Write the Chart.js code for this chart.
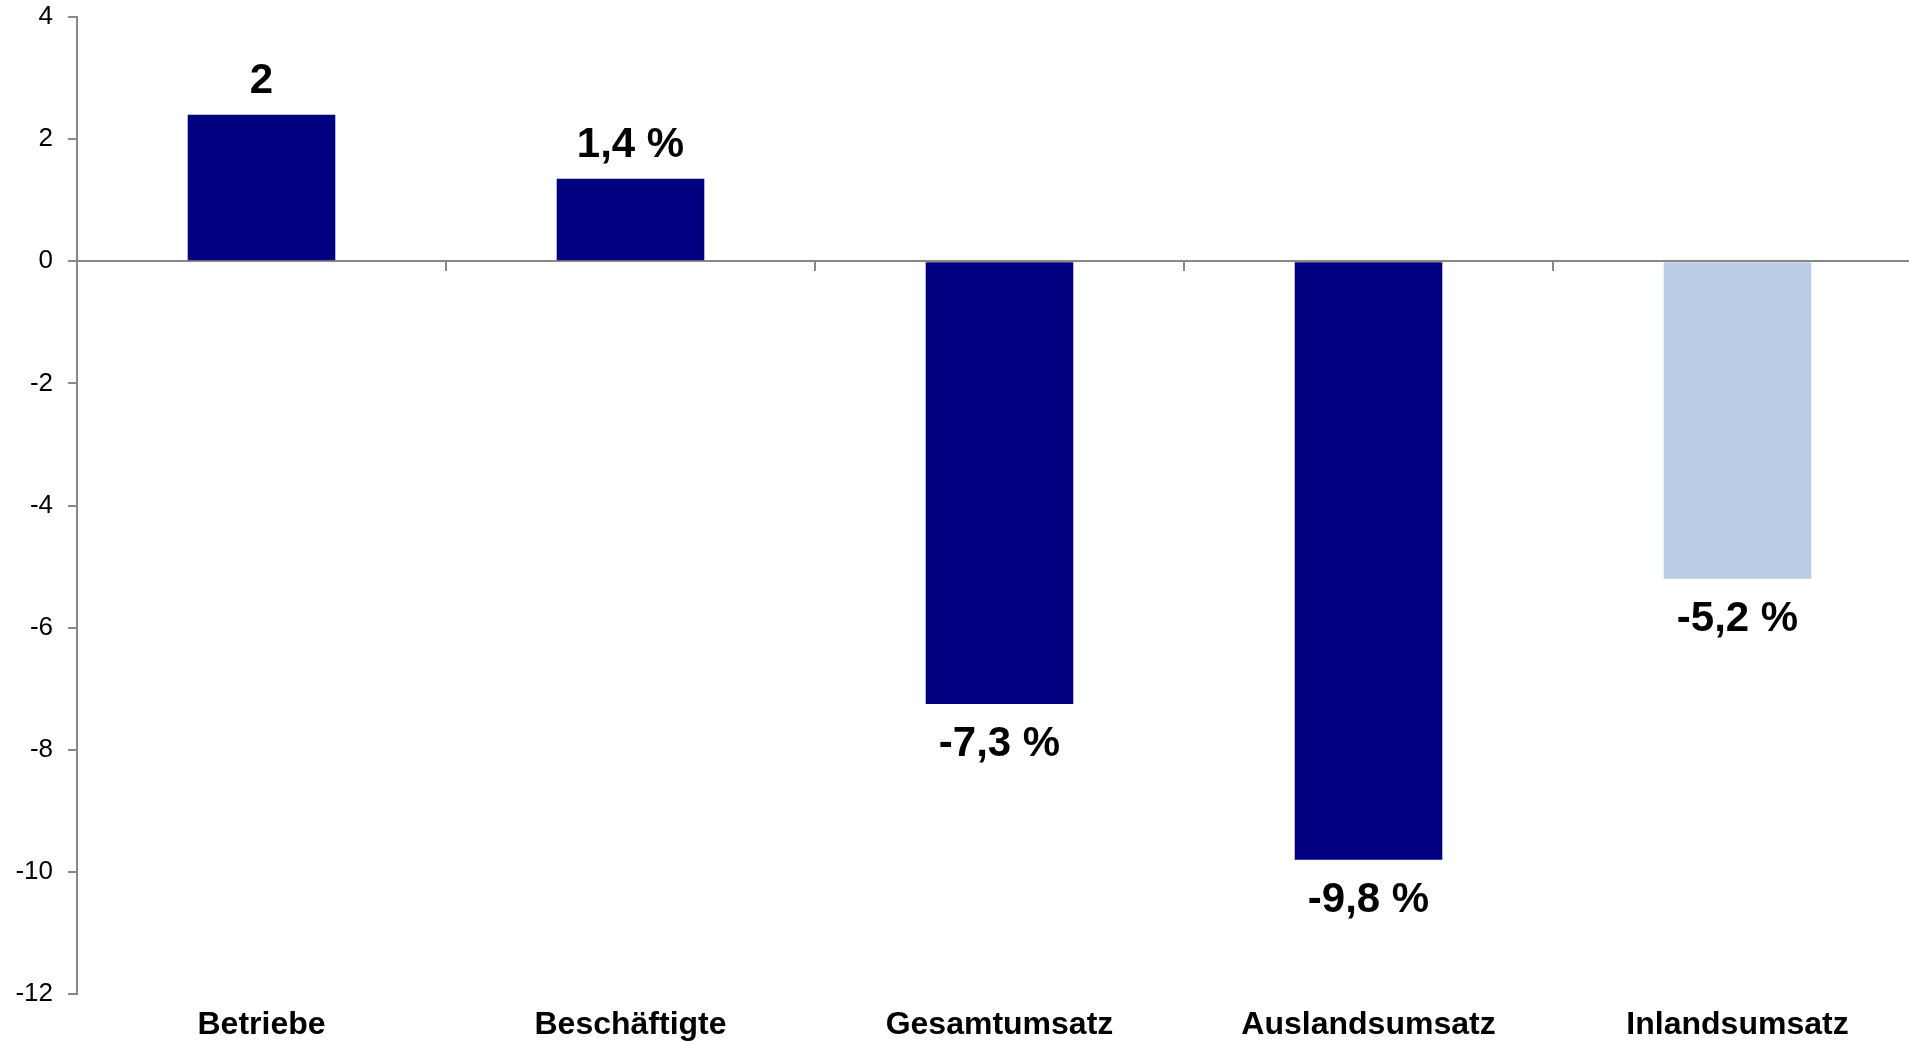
<!DOCTYPE html>
<html>
<head>
<meta charset="utf-8">
<script src="https://cdn.jsdelivr.net/npm/chart.js@4"></script>
<style>
  html, body { margin: 0; padding: 0; background: #fff; overflow: hidden; }
  #wrap { width: 1922px; height: 1042px; }
</style>
</head>
<body>
<div id="wrap"><canvas id="myChart"></canvas></div>
<script>
const categories = ['Betriebe', 'Beschäftigte', 'Gesamtumsatz', 'Auslandsumsatz', 'Inlandsumsatz'];
const values = [2.4, 1.35, -7.25, -9.8, -5.2];
const valueLabels = ['2', '1,4 %', '-7,3 %', '-9,8 %', '-5,2 %'];
const barColors = ['#000080', '#000080', '#000080', '#000080', '#B9CDE5'];

const axisGray = '#888888';
const fontFamily = "Arial, 'Liberation Sans', sans-serif";

// value labels above positive bars, below negative bars
const valueLabelPlugin = {
    id: 'valueLabels',
    afterDatasetsDraw(chart) {
        const ctx = chart.ctx;
        const meta = chart.getDatasetMeta(0);
        ctx.save();
        ctx.fillStyle = '#000';
        ctx.font = 'bold 42px ' + fontFamily;
        ctx.textAlign = 'center';
        ctx.textBaseline = 'alphabetic';
        meta.data.forEach((bar, i) => {
            const y = values[i] >= 0 ? bar.y - 22 : bar.y + 52;
            ctx.fillText(valueLabels[i], bar.x, y);
        });
        ctx.restore();
    }
};

new Chart(document.getElementById('myChart'), {
    type: 'bar',
    data: {
        labels: categories,
        datasets: [{
            data: values,
            backgroundColor: barColors,
            borderWidth: 0,
            barPercentage: 0.4,
            categoryPercentage: 1
        }]
    },
    options: {
        responsive: true,
        maintainAspectRatio: false,
        animation: false,
        layout: { padding: { left: 0, top: 17, right: 0, bottom: 0 } },
        plugins: {
            legend: { display: false },
            tooltip: { enabled: false }
        },
        scales: {
            x: {
                position: 'bottom',
                grid: { display: false, drawTicks: false },
                border: { display: false },
                ticks: {
                    color: '#000',
                    padding: 12,
                    font: { family: fontFamily, size: 32, weight: 'bold' }
                },
                afterFit(scale) { scale.height = 48; }
            },
            xZero: {
                type: 'category',
                position: { y: 0 },
                offset: true,
                grid: { offset: true, drawOnChartArea: false, tickLength: 9, color: axisGray, lineWidth: 2 },
                border: { color: axisGray, width: 2 },
                ticks: { display: false }
            },
            y: {
                min: -12,
                max: 4,
                grid: { drawOnChartArea: false, tickLength: 9, color: axisGray, lineWidth: 2 },
                border: { color: axisGray, width: 2 },
                ticks: {
                    stepSize: 2,
                    color: '#000',
                    padding: 15,
                    font: { family: fontFamily, size: 26 }
                },
                afterFit(scale) {
                    scale.width = 77;
                    scale.paddingTop = 0;
                    scale.paddingBottom = 0;
                }
            }
        }
    },
    plugins: [valueLabelPlugin]
});
</script>
</body>
</html>
